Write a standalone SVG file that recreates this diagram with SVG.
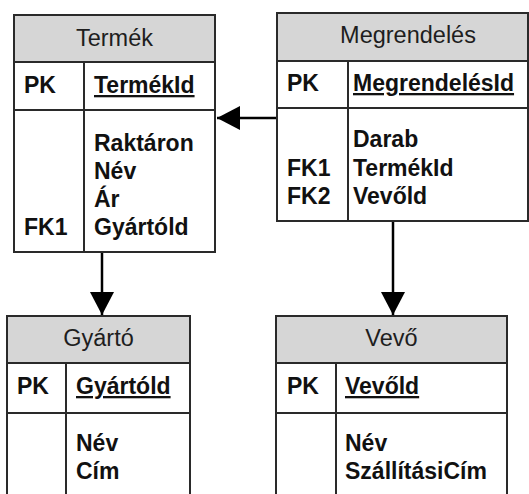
<svg xmlns="http://www.w3.org/2000/svg" width="529" height="494" viewBox="0 0 529 494">
<defs>
<style>
.box{fill:#fff;stroke:#2a2a2a;stroke-width:2}
.hdr{fill:#d6d6d6;stroke:#2a2a2a;stroke-width:2}
.ln{stroke:#2a2a2a;stroke-width:2;fill:none}
.title{font-family:"Liberation Sans",Arial,sans-serif;font-size:23.5px;fill:#1e1e1e;text-anchor:middle}
.t{font-family:"Liberation Sans",Arial,sans-serif;font-size:23px;font-weight:bold;fill:#111}
.u{text-decoration:underline}
.conn{stroke:#000;stroke-width:2.5;fill:none}
</style>
<marker id="ah" markerUnits="userSpaceOnUse" markerWidth="24" markerHeight="24" refX="23" refY="12" orient="auto" viewBox="0 0 24 24">
<path d="M0,0 L23,12 L0,24 Z" fill="#000"/>
</marker>
</defs>
<g id="connectors">
<line class="conn" x1="102" y1="252" x2="102" y2="315" marker-end="url(#ah)"/>
<line class="conn" x1="393" y1="221" x2="393" y2="315" marker-end="url(#ah)"/>
<line class="conn" x1="277" y1="118" x2="217" y2="118" marker-end="url(#ah)"/>
</g>
<g id="termek">
<rect class="box" x="14" y="15" width="201" height="237"/>
<rect class="hdr" x="14" y="15" width="201" height="47"/>
<line class="ln" x1="14" y1="110" x2="215" y2="110"/>
<line class="ln" x1="84" y1="62" x2="84" y2="252"/>
<text class="title" x="114.5" y="46">Termék</text>
<text class="t" x="24" y="93">PK</text>
<text class="t u" x="94" y="93">TermékId</text>
<text class="t" x="94" y="150.5">Raktáron</text>
<text class="t" x="94" y="178.5">Név</text>
<text class="t" x="94" y="206.5">Ár</text>
<text class="t" x="24" y="234.5">FK1</text>
<text class="t" x="94" y="234.5">Gyártóld</text>
</g>
<g id="megrendeles">
<rect class="box" x="277" y="13" width="251" height="208"/>
<rect class="hdr" x="277" y="13" width="251" height="48"/>
<line class="ln" x1="277" y1="108" x2="528" y2="108"/>
<line class="ln" x1="348" y1="61" x2="348" y2="221"/>
<text class="title" x="408" y="43">Megrendelés</text>
<text class="t" x="287" y="91">PK</text>
<text class="t u" x="353" y="91">MegrendelésId</text>
<text class="t" x="353" y="147">Darab</text>
<text class="t" x="287" y="175.5">FK1</text>
<text class="t" x="353" y="175.5">TermékId</text>
<text class="t" x="287" y="204">FK2</text>
<text class="t" x="353" y="204">Vevőld</text>
</g>
<g id="gyarto">
<rect class="box" x="7" y="316" width="183" height="190"/>
<rect class="hdr" x="7" y="316" width="183" height="47"/>
<line class="ln" x1="7" y1="413" x2="190" y2="413"/>
<line class="ln" x1="66" y1="363" x2="66" y2="506"/>
<text class="title" x="98.5" y="346">Gyártó</text>
<text class="t" x="17" y="394">PK</text>
<text class="t u" x="76" y="394">Gyártóld</text>
<text class="t" x="76" y="451">Név</text>
<text class="t" x="76" y="478.5">Cím</text>
</g>
<g id="vevo">
<rect class="box" x="276" y="316" width="231" height="190"/>
<rect class="hdr" x="276" y="316" width="231" height="47"/>
<line class="ln" x1="276" y1="413" x2="507" y2="413"/>
<line class="ln" x1="336" y1="363" x2="336" y2="506"/>
<text class="title" x="391.5" y="346">Vevő</text>
<text class="t" x="287" y="394">PK</text>
<text class="t u" x="345" y="394">Vevőld</text>
<text class="t" x="345" y="451">Név</text>
<text class="t" x="345" y="478.5">SzállításiCím</text>
</g>
</svg>
